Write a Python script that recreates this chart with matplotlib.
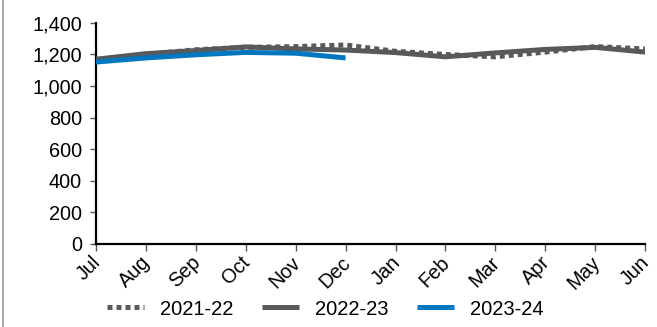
import numpy as np
import matplotlib
matplotlib.use("Agg")
import matplotlib.pyplot as plt
import matplotlib.transforms as mtransforms
from matplotlib.lines import Line2D

plt.rcParams['font.family'] = ['Liberation Sans', 'DejaVu Sans']

GREY = "#58595B"
BLUE = "#0077C0"

months = ["Jul", "Aug", "Sep", "Oct", "Nov", "Dec",
          "Jan", "Feb", "Mar", "Apr", "May", "Jun"]
y2021_22 = [1165, 1200, 1230, 1245, 1250, 1260, 1220, 1200, 1185, 1215, 1250, 1235]
y2022_23 = [1170, 1205, 1225, 1248, 1235, 1228, 1212, 1185, 1210, 1232, 1245, 1215]
y2023_24 = [1152, 1178, 1198, 1213, 1208, 1178]

x = np.arange(len(months))

fig = plt.figure(figsize=(6.57, 3.27), dpi=100)
ax = fig.add_axes([0.146, 0.254, 0.836, 0.676])

ax.plot(x, y2022_23, color=GREY, lw=3.6, solid_capstyle="butt", zorder=3)
ax.plot(x, y2021_22, color=GREY, lw=3.6, linestyle=(0, (1, 0.8)),
        dash_capstyle="butt", zorder=4)
ax.plot(x[:len(y2023_24)], y2023_24, color=BLUE, lw=3.6,
        solid_capstyle="butt", zorder=5)

ax.set_xlim(0, len(months) - 1)
ax.set_ylim(0, 1400)
ax.set_yticks(range(0, 1401, 200))
ax.set_yticklabels([f"{v:,}" for v in range(0, 1401, 200)], fontsize=14.3)
ax.set_xticks(x)
ax.set_xticklabels([])

# rotated month labels, drawn by hand so they can sit a bit left of the ticks
shift = mtransforms.ScaledTranslation(-5 / 100, -9 / 100, fig.dpi_scale_trans)
for xi, m in zip(x, months):
    ax.text(xi, 0, m, transform=ax.get_xaxis_transform() + shift,
            rotation=45, ha="right", va="top", rotation_mode="anchor",
            fontsize=14.3)

for s in ["top", "right"]:
    ax.spines[s].set_visible(False)
for s in ["left", "bottom"]:
    ax.spines[s].set_linewidth(1.6)
    ax.spines[s].set_color("black")
ax.tick_params(axis="y", length=4, width=1, pad=6, color="#555555")
ax.tick_params(axis="x", length=5, width=1, pad=3, color="#555555")

handles = [
    Line2D([], [], color=GREY, lw=3.6, linestyle=(0, (1, 0.8)), dash_capstyle="butt"),
    Line2D([], [], color=GREY, lw=3.6, solid_capstyle="butt"),
    Line2D([], [], color=BLUE, lw=3.6, solid_capstyle="butt"),
]
fig.legend(handles, ["2021-22", "2022-23", "2023-24"], loc="center",
           bbox_to_anchor=(0.495, 0.055), ncol=3, frameon=False, fontsize=14.5,
           handlelength=1.85, handletextpad=0.75, columnspacing=1.45,
           borderpad=0, borderaxespad=0)

# left border of the figure frame
fig.add_artist(Line2D([0.005, 0.005], [0.0, 1.0], color="#999999", lw=1.2,
                      transform=fig.transFigure))

fig.savefig("out.png", dpi=100)
